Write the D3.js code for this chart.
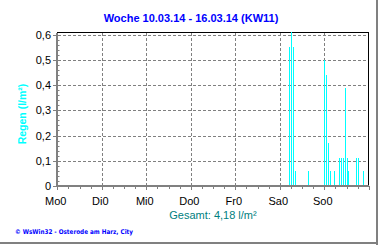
<!DOCTYPE html>
<html><head><meta charset="utf-8">
<script src="https://cdn.jsdelivr.net/npm/d3@7"></script>
<style>body{margin:0;background:#fff;}svg{display:block;}</style>
</head><body>
<svg id="c" width="380" height="245"></svg>
<script>
// ---- data ----
const dayLabels = ["Mo0","Di0","Mi0","Do0","Fr0","Sa0","So0"];
const yTicks = [0,0.1,0.2,0.3,0.4,0.5,0.6];
const yTickLabels = ["0","0,1","0,2","0,3","0,4","0,5","0,6"];
// hours since Monday 00:00
const rainHours = [125.1,126.2,127.3,128.4,135.4,144.0,145.1,146.2,147.2,149.4,152.1,153.2,154.3,155.3,156.4,156.9,161.3,162.4,165.0];
const rainValues = [0.55,0.61,0.55,0.06,0.06,0.50,0.44,0.17,0.06,0.06,0.11,0.11,0.11,0.39,0.11,0.06,0.11,0.11,0.06];
const title = "Woche 10.03.14 - 16.03.14 (KW11)";
const yTitle = "Regen (l/m²)";
const totalText = "Gesamt: 4,18 l/m²";
const footer = "© WsWin32  -  Osterode am Harz, City";

const svg = d3.select("#c");
const F = "'Liberation Sans', Arial, sans-serif";
const x = d3.scaleLinear().domain([0,168]).range([57.3,368.8]);
const y = d3.scaleLinear().domain([0,0.6]).range([186,34.5]);

// outer frame
svg.append("line").attr("x1",377).attr("x2",377).attr("y1",0).attr("y2",245).attr("stroke","#808080").attr("stroke-width",2);
svg.append("line").attr("x1",0).attr("x2",378).attr("y1",243).attr("y2",243).attr("stroke","#808080").attr("stroke-width",2);

// title
svg.append("text").attr("x",191).attr("y",22).attr("text-anchor","middle")
  .attr("font-family",F).attr("font-weight","bold").attr("font-size",11).attr("fill","#0000ff").text(title);

// grid
const g = svg.append("g");
g.selectAll("line.hg").data(yTicks.filter(d=>d>0)).join("line")
  .attr("x1",58).attr("x2",368).attr("y1",d=>Math.round(y(d))+0.5).attr("y2",d=>Math.round(y(d))+0.5)
  .attr("stroke","#808080").attr("stroke-dasharray","3,2");
g.selectAll("line.vg").data(d3.range(1,7)).join("line")
  .attr("x1",d=>Math.round(x(d*24))+0.5).attr("x2",d=>Math.round(x(d*24))+0.5).attr("y1",33).attr("y2",185)
  .attr("stroke","#808080").attr("stroke-dasharray","3,2");

// plot border top/right
svg.append("line").attr("x1",57).attr("x2",369).attr("y1",32.5).attr("y2",32.5).attr("stroke","#000");
svg.append("line").attr("x1",368.5).attr("x2",368.5).attr("y1",32).attr("y2",186).attr("stroke","#000");

// bars
svg.append("g").selectAll("rect").data(rainHours).join("rect")
  .attr("x",d=>Math.floor(x(d))).attr("width",1)
  .attr("y",(d,i)=>Math.round(Math.max(32,y(rainValues[i])))).attr("height",(d,i)=>186-Math.round(Math.max(32,y(rainValues[i]))))
  .attr("fill","#00ffff").attr("shape-rendering","crispEdges");

// y axis
const ya = svg.append("g");
ya.selectAll("line.mn").data(d3.range(0,31).map(i=>i*0.02)).join("line")
  .attr("x1",57).attr("x2",59.5).attr("y1",d=>Math.round(y(d))+0.5).attr("y2",d=>Math.round(y(d))+0.5).attr("stroke","#808080");
ya.selectAll("line.mj").data(yTicks).join("line")
  .attr("x1",53).attr("x2",60.5).attr("y1",d=>Math.round(y(d))+0.5).attr("y2",d=>Math.round(y(d))+0.5).attr("stroke","#808080");
ya.append("line").attr("x1",57).attr("x2",57).attr("y1",33).attr("y2",187).attr("stroke","#808080").attr("stroke-width",2);
ya.selectAll("text").data(yTicks).join("text")
  .attr("x",51).attr("y",d=>y(d)+4).attr("text-anchor","end")
  .attr("font-family",F).attr("font-size",11).attr("fill","#000").text((d,i)=>yTickLabels[i]);
svg.append("text").attr("transform","translate(26,114) rotate(-90)").attr("text-anchor","middle")
  .attr("font-family",F).attr("font-weight","bold").attr("font-size",10.5).attr("fill","#00ffff").text(yTitle);

// x axis
const xa = svg.append("g");
xa.append("line").attr("x1",56).attr("x2",369).attr("y1",186).attr("y2",186).attr("stroke","#808080").attr("stroke-width",2);
xa.selectAll("line.mn").data(d3.range(0,29).map(i=>i*6)).join("line")
  .attr("x1",d=>Math.round(x(d))+0.5).attr("x2",d=>Math.round(x(d))+0.5).attr("y1",186).attr("y2",d=>d%24===0?190:189)
  .attr("stroke","#808080");
xa.selectAll("text").data(dayLabels).join("text")
  .attr("x",(d,i)=>x(i*24)-1.5).attr("y",205).attr("text-anchor","middle")
  .attr("font-family",F).attr("font-size",11).attr("fill","#000").text(d=>d);

// total
svg.append("text").attr("x",213).attr("y",219).attr("text-anchor","middle")
  .attr("font-family",F).attr("font-size",11).attr("fill","#008080").text(totalText);

// footer
svg.append("text").attr("x",15).attr("y",233.5).attr("textLength",118).attr("lengthAdjust","spacingAndGlyphs")
  .attr("font-family","'DejaVu Sans', Verdana, sans-serif").attr("font-weight","bold").attr("font-size",6.5).attr("fill","#0000ff").text(footer);
</script>
</body></html>
